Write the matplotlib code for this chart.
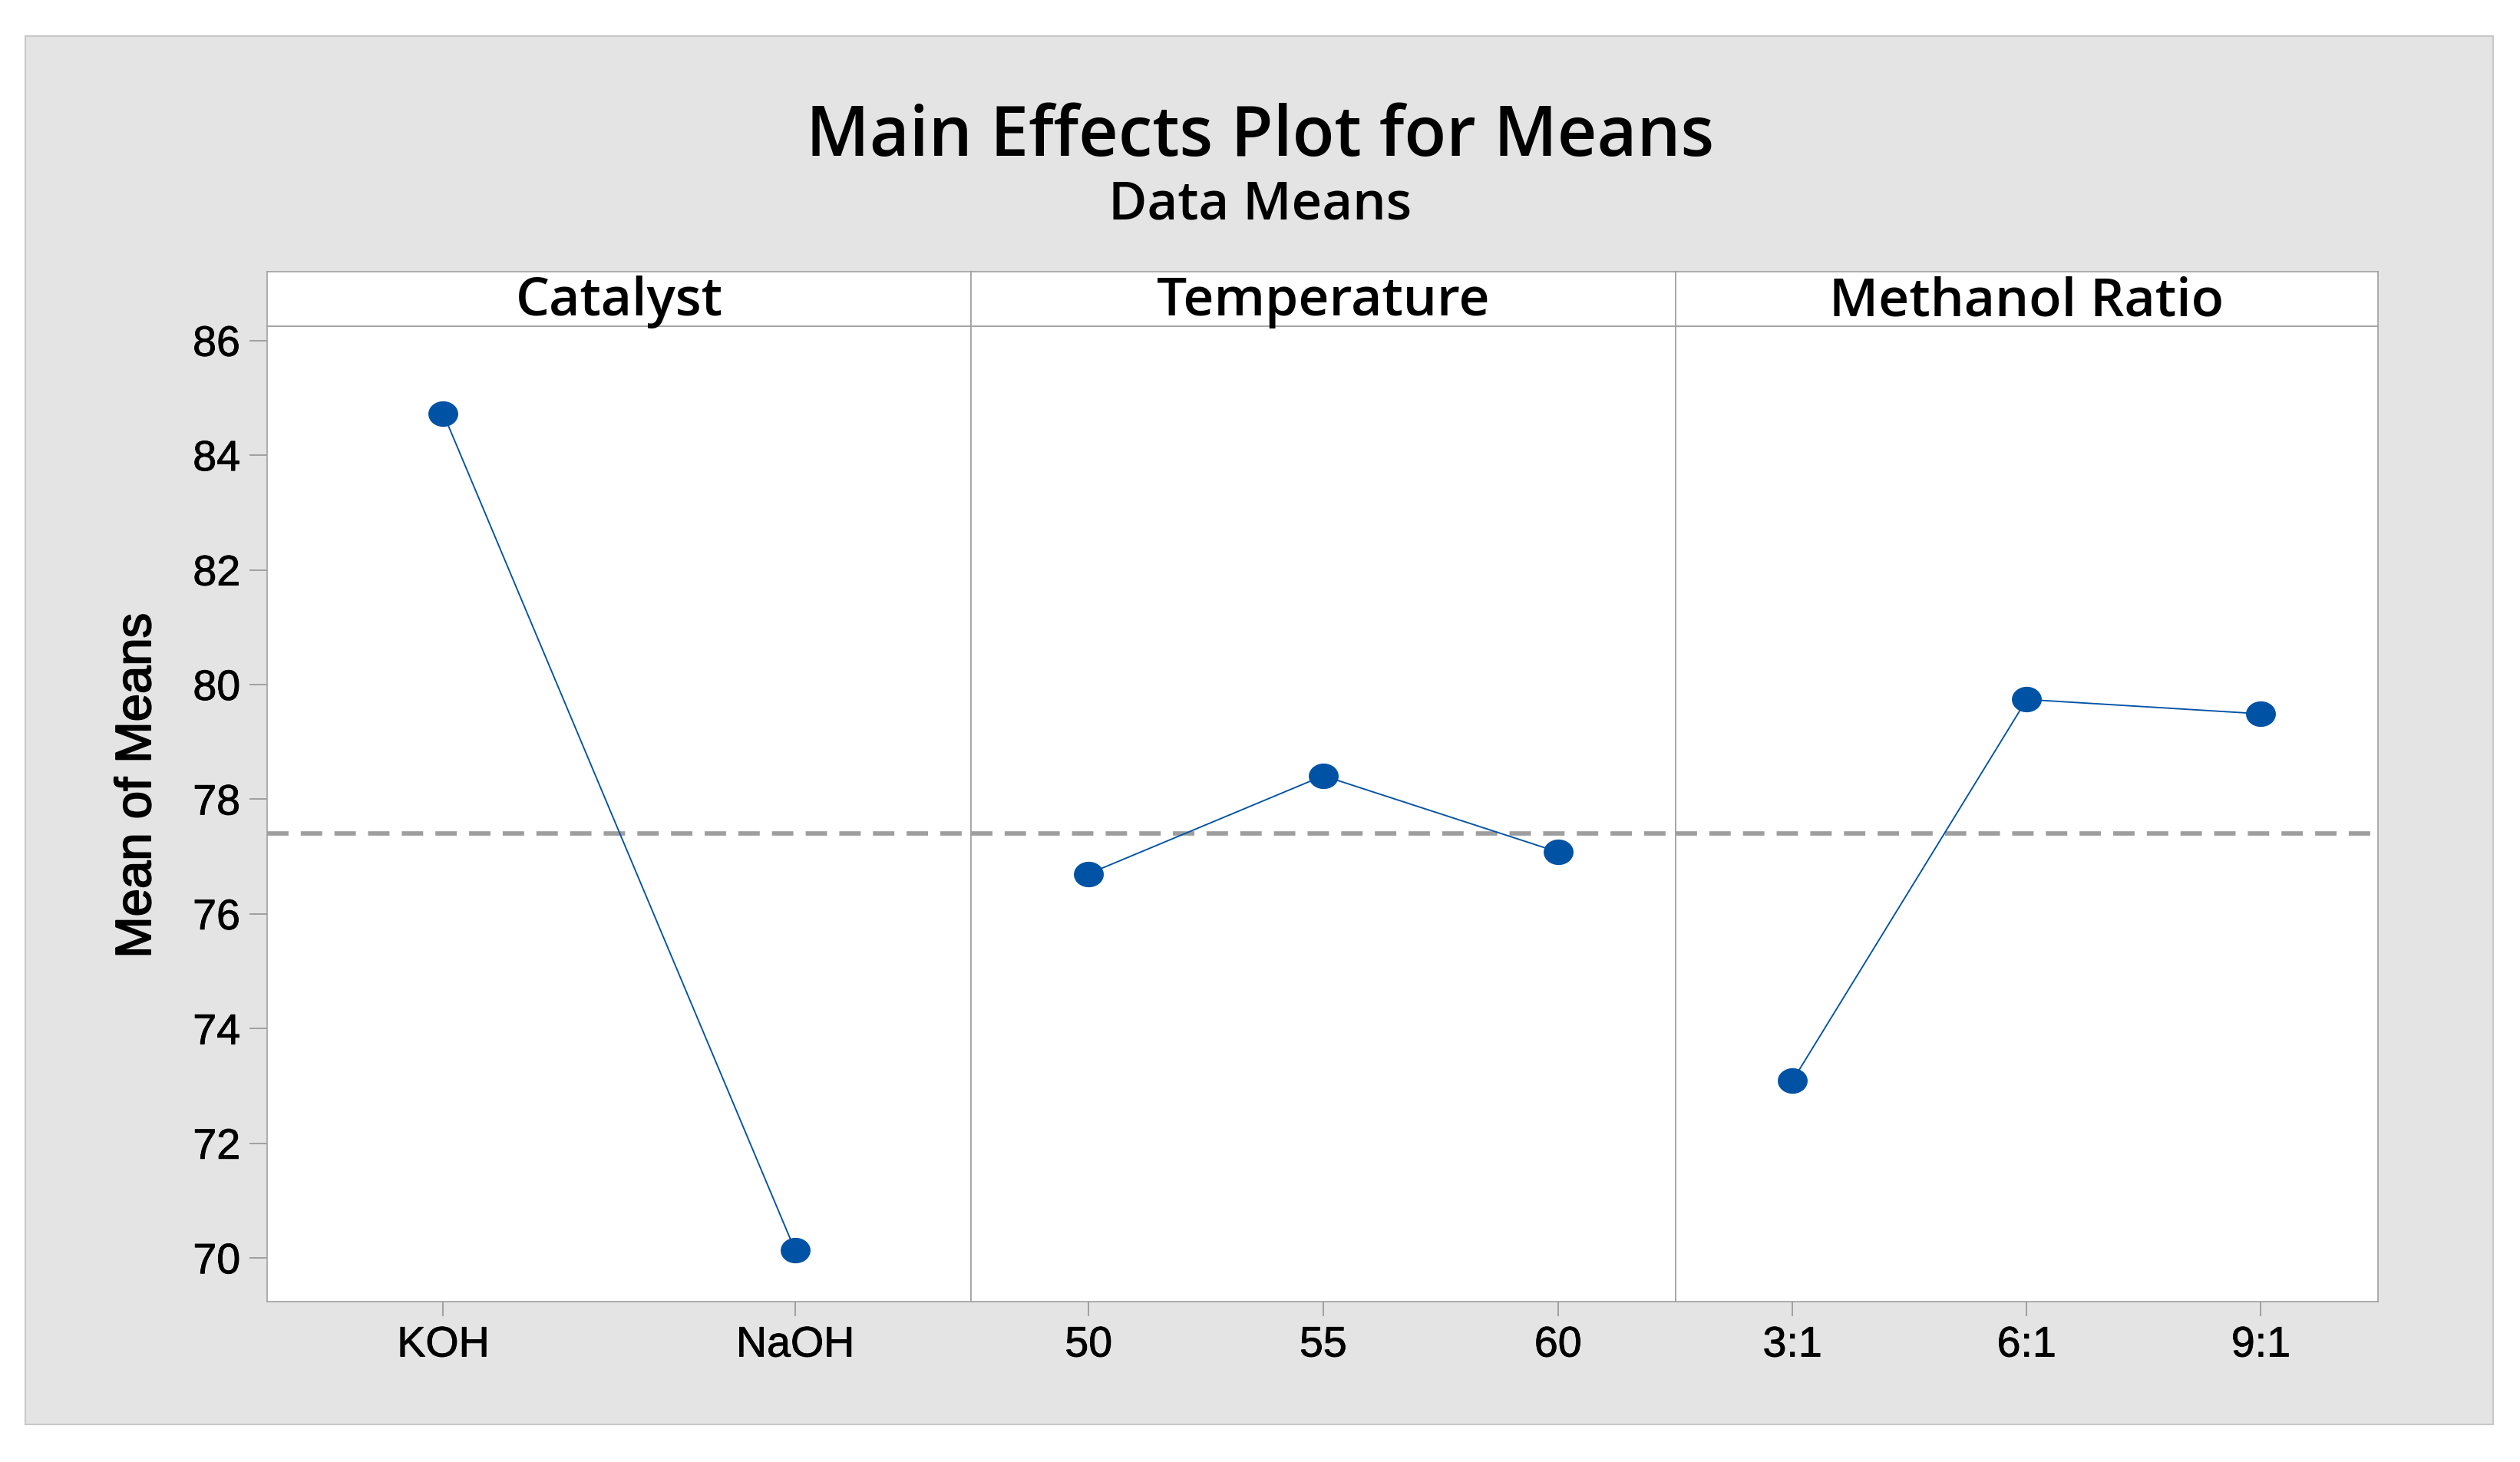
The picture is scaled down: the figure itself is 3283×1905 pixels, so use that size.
import matplotlib
matplotlib.use("Agg")
import matplotlib.pyplot as plt
from matplotlib.patches import Rectangle
from matplotlib.path import Path
import matplotlib.patheffects as pe
import numpy as np

# ---- data ----
factor_names = ["Catalyst", "Temperature", "Methanol Ratio"]
catalyst_levels = ["KOH", "NaOH"]
catalyst_means = [84.73, 70.13]
temperature_levels = ["50", "55", "60"]
temperature_means = [76.70, 78.41, 77.08]
methanol_levels = ["3:1", "6:1", "9:1"]
methanol_means = [73.09, 79.74, 79.49]
grand_mean = 77.41
y_ticks = [70, 72, 74, 76, 78, 80, 82, 84, 86]

levels_all = [catalyst_levels, temperature_levels, methanol_levels]
means_all = [catalyst_means, temperature_means, methanol_means]

W, H = 3283, 1906
DPI = 100
fig = plt.figure(figsize=(W / DPI, H / DPI), dpi=DPI, facecolor="white")

def fx(px):
    return px / W

def fy(py):
    return 1 - py / H

# grey background box
bg = Rectangle((fx(33), fy(1857)), fx(3248) - fx(33), fy(48) - fy(1857),
               transform=fig.transFigure, facecolor="#E4E4E4",
               edgecolor="#C8C8C8", linewidth=1.5, zorder=-10)
fig.patches.append(bg)

TITLE_FONT = ["Open Sans", "DejaVu Sans"]
TICK_FONT = ["Liberation Sans", "DejaVu Sans"]
thick = [pe.withStroke(linewidth=0.6, foreground="black")]

fig.text(0.5, fy(203), "Main Effects Plot for Means", ha="center", va="baseline",
         fontsize=64.5, family=TITLE_FONT, weight="semibold")
fig.text(0.5, fy(285), "Data Means", ha="center", va="baseline",
         fontsize=49.5, family=TITLE_FONT, weight="semibold")

# ellipse marker
t = np.linspace(0, 2 * np.pi, 60)
ell = Path(np.column_stack([np.cos(t), 0.85 * np.sin(t)]), closed=True)

panel_x = [348, 1265.3, 2182.6, 3098]
top_px, bot_px = 426, 1697
strip_top = 355
ymin, ymax = 69.24, 86.25
frame_col = "#A0A0A0"
line_col = "#0052A5"

for i in range(3):
    x0, x1 = panel_x[i], panel_x[i + 1]
    ax = fig.add_axes([fx(x0), fy(bot_px), fx(x1) - fx(x0), fy(top_px) - fy(bot_px)])
    ax.set_facecolor("white")
    lv = levels_all[i]
    mv = means_all[i]
    xs = np.arange(1, len(lv) + 1)
    ax.axhline(grand_mean, color="#9E9E9E", lw=4.1, ls=(0, (4.9, 2.8)), zorder=1)
    ax.plot(xs, mv, color=line_col, lw=1.35, zorder=2)
    ax.plot(xs, mv, ls="none", marker=ell, markersize=27,
            markerfacecolor="#0052A5", markeredgecolor="#0052A5", zorder=3)
    ax.set_xlim(0.5, len(lv) + 0.5)
    ax.set_ylim(ymin, ymax)
    ax.set_xticks(xs)
    ax.set_xticklabels(lv, family=TICK_FONT, fontsize=40)
    for lab in ax.get_xticklabels():
        lab.set_path_effects(thick)
    ax.tick_params(axis="x", length=13.7, width=1.4, color=frame_col, pad=9)
    for s in ax.spines.values():
        s.set_color(frame_col)
        s.set_linewidth(1.2)
    if i == 0:
        ax.set_yticks(y_ticks)
        ax.set_yticklabels([str(v) for v in y_ticks], family=TICK_FONT, fontsize=40)
        for lab in ax.get_yticklabels():
            lab.set_path_effects(thick)
        ax.tick_params(axis="y", length=16.6, width=1.4, color=frame_col, pad=8.6)
    else:
        ax.set_yticks([])
    # strip
    sax = fig.add_axes([fx(x0), fy(top_px), fx(x1) - fx(x0), fy(strip_top) - fy(top_px)])
    sax.set_facecolor("white")
    sax.set_xticks([])
    sax.set_yticks([])
    for s in sax.spines.values():
        s.set_color(frame_col)
        s.set_linewidth(1.2)
    sax.text(0.5, (top_px - 411) / (top_px - strip_top), factor_names[i],
             transform=sax.transAxes, ha="center", va="baseline",
             fontsize=50, family=TITLE_FONT, weight="semibold")

fig.text(fx(179), fy(1025), "Mean of Means", rotation=90, ha="center", va="center",
         fontsize=47, family=TICK_FONT,
         path_effects=[pe.withStroke(linewidth=1.4, foreground="black")])

fig.savefig("out.png", dpi=DPI, facecolor="white")
